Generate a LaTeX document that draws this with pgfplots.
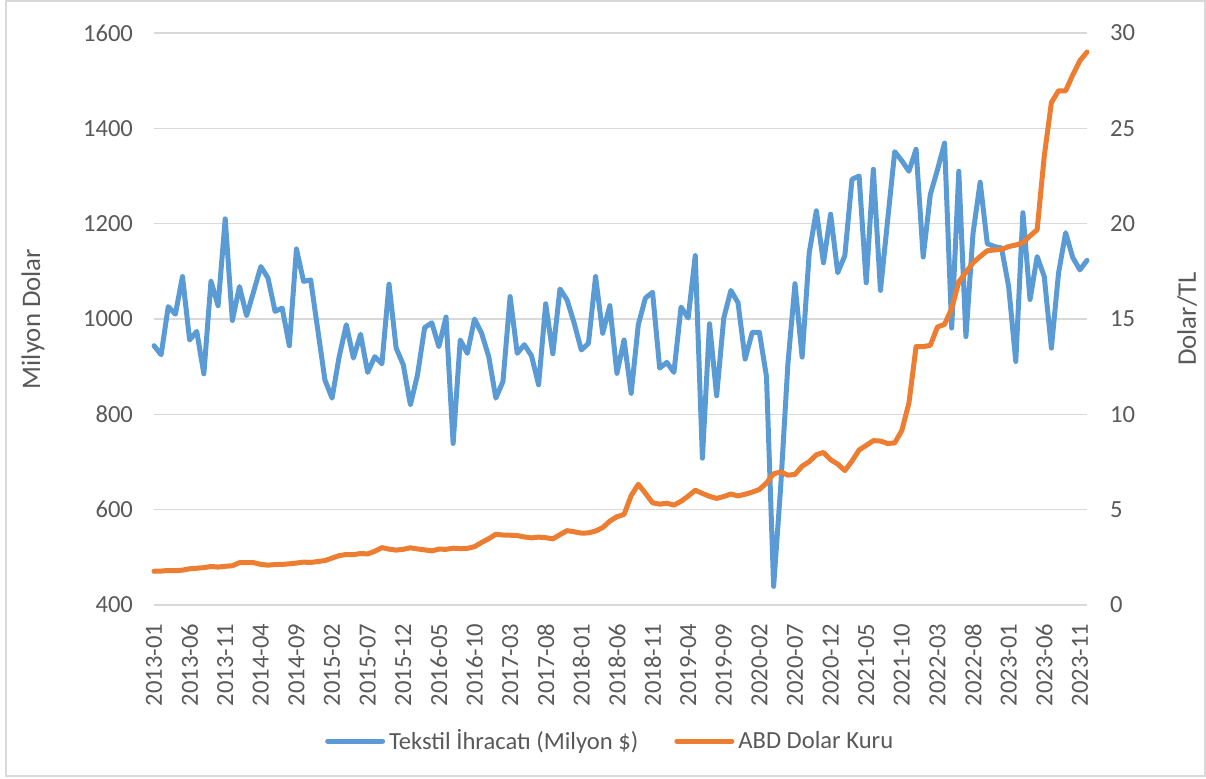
\documentclass[border=0pt]{standalone}
\usepackage{fontspec}
\setmainfont{Carlito}
\usepackage{pgfplots}
\usepackage{pgfplotstable}
\pgfplotsset{compat=1.18}
\definecolor{cblue}{HTML}{5B9BD5}
\definecolor{corange}{HTML}{ED7D31}
\definecolor{cgrid}{HTML}{D9D9D9}
\definecolor{ctext}{HTML}{595959}

\pgfplotstableread{
i tex usd
0 944 1.77
1 925 1.78
2 1026 1.81
3 1010 1.80
4 1089 1.83
5 956 1.90
6 974 1.93
7 885 1.96
8 1079 2.02
9 1028 1.99
10 1210 2.03
11 997 2.06
12 1068 2.22
13 1007 2.22
14 1058 2.22
15 1110 2.13
16 1086 2.09
17 1016 2.12
18 1023 2.13
19 944 2.16
20 1147 2.20
21 1079 2.25
22 1082 2.23
23 977 2.28
24 872 2.33
25 834 2.46
26 921 2.59
27 988 2.65
28 918 2.64
29 968 2.70
30 888 2.68
31 921 2.82
32 906 3.01
33 1073 2.93
34 939 2.88
35 904 2.92
36 820 3.00
37 883 2.94
38 982 2.89
39 992 2.84
40 942 2.93
41 1004 2.92
42 739 2.98
43 956 2.96
44 928 2.97
45 1000 3.06
46 970 3.28
47 921 3.48
48 834 3.71
49 869 3.67
50 1047 3.66
51 928 3.64
52 946 3.57
53 923 3.52
54 862 3.56
55 1032 3.53
56 927 3.47
57 1063 3.69
58 1040 3.90
59 991 3.84
60 935 3.77
61 949 3.78
62 1089 3.88
63 970 4.06
64 1028 4.40
65 886 4.63
66 956 4.75
67 844 5.74
68 988 6.33
69 1044 5.86
70 1056 5.36
71 897 5.29
72 909 5.34
73 888 5.24
74 1025 5.44
75 1002 5.71
76 1133 6.02
77 708 5.85
78 990 5.70
79 839 5.59
80 1002 5.69
81 1060 5.82
82 1034 5.72
83 916 5.81
84 972 5.92
85 972 6.06
86 879 6.40
87 439 6.88
88 650 6.98
89 905 6.81
90 1074 6.85
91 920 7.28
92 1139 7.52
93 1227 7.88
94 1118 8.00
95 1220 7.62
96 1097 7.39
97 1133 7.05
98 1293 7.55
99 1300 8.13
100 1076 8.37
101 1314 8.62
102 1060 8.60
103 1206 8.47
104 1351 8.50
105 1332 9.15
106 1310 10.60
107 1356 13.55
108 1130 13.55
109 1261 13.62
110 1313 14.58
111 1369 14.72
112 981 15.55
113 1310 16.95
114 963 17.45
115 1180 17.95
116 1287 18.28
117 1158 18.58
118 1152 18.62
119 1149 18.65
120 1068 18.80
121 911 18.88
122 1223 19.00
123 1041 19.36
124 1131 19.68
125 1089 23.55
126 939 26.35
127 1096 26.97
128 1181 26.97
129 1129 27.80
130 1103 28.55
131 1123 29.00
}\data

\pgfplotsset{
  base/.style={
    at={(0pt,0pt)}, anchor=south west,
    scale only axis, width=466.5pt, height=286pt,
    xmin=0, xmax=131,
    axis line style={draw=none},
    major tick length=0pt,
    tick label style={font=\fontsize{12.3}{14}\selectfont, text=ctext},
    label style={font=\fontsize{13.4}{15}\selectfont, text=ctext},
    /pgf/number format/assume math mode=true,
    clip=false,
  }
}

\begin{document}
\begin{tikzpicture}
\useasboundingbox (-77pt,-86.5pt) rectangle (526pt,302.5pt);
\draw[cgrid, line width=0.6pt] (-74pt,-85.5pt) rectangle (525.5pt,302pt);
\begin{axis}[base,
  ymin=400, ymax=1600,
  ytick={400,600,...,1600},
  xtick={0,5,...,130},
  xticklabels={2013-01,2013-06,2013-11,2014-04,2014-09,2015-02,2015-07,2015-12,2016-05,2016-10,2017-03,2017-08,2018-01,2018-06,2018-11,2019-04,2019-09,2020-02,2020-07,2020-12,2021-05,2021-10,2022-03,2022-08,2023-01,2023-06,2023-11},
  xticklabel style={rotate=90, anchor=east},
  xticklabel shift=6pt,
  yticklabel shift=7pt,
  ymajorgrids, grid style={cgrid, line width=0.75pt},
  ylabel={Milyon Dolar},
  ylabel style={at={(axis description cs:-0.1297,0.5)}, anchor=center},
  /pgf/number format/1000 sep={},
]
\addplot[cblue, line width=2.5pt, line join=round, line cap=round] table[x=i, y=tex] {\data};
\end{axis}
\begin{axis}[base,
  ymin=0, ymax=30,
  ytick={0,5,...,30},
  axis y line*=right,
  axis x line=none,
  yticklabel shift=8pt,
  ylabel={Dolar/TL},
  ylabel style={at={(axis description cs:1.1072,0.5)}, anchor=center, rotate=0},
  legend style={at={(axis description cs:0.49,-0.238)}, anchor=center, draw=none, fill=none,
    legend columns=2, font=\fontsize{12.3}{14}\selectfont, text=ctext,
    /tikz/every even column/.append style={column sep=16pt}},
  legend image code/.code={\draw[#1] (0pt,0pt) -- (27.5pt,0pt);},
]
\addlegendimage{cblue, line width=2.5pt, line cap=round}
\addlegendentry{Tekstil İhracatı (Milyon \$)}
\addplot[corange, line width=2.5pt, line join=round, line cap=round] table[x=i, y=usd] {\data};
\addlegendentry{ABD Dolar Kuru}
\end{axis}
\end{tikzpicture}
\end{document}
